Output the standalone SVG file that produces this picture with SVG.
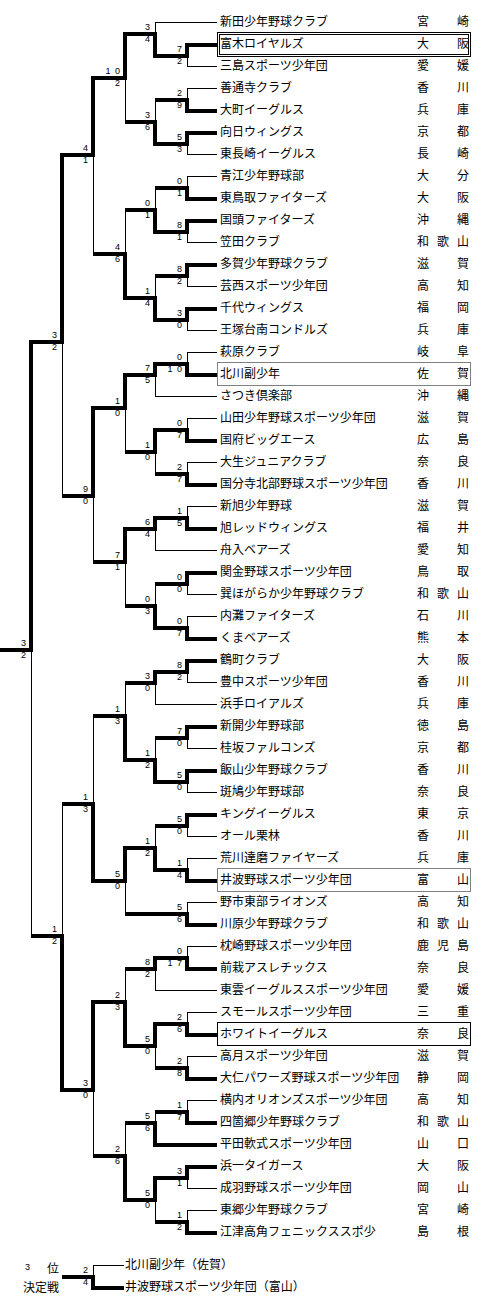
<svg xmlns="http://www.w3.org/2000/svg" width="486" height="1310" viewBox="0 0 486 1310">
<style>
.nm{font-family:"Noto Sans CJK JP","Noto Sans CJK SC",sans-serif;font-size:12px;fill:#000}
.sc{font-family:"Liberation Sans",Arial,sans-serif;font-size:9px;fill:#000;text-anchor:end;word-spacing:2px}
.thin{fill:none;stroke:#000;stroke-width:1}
.tv{fill:none;stroke:#000;stroke-width:4;stroke-linecap:square}
.th{fill:none;stroke:#000;stroke-width:4;stroke-linecap:butt}
.box{fill:none;stroke:#000;stroke-width:1}
.dot{fill:none;stroke:#000;stroke-width:1;stroke-dasharray:1 1}
</style>
<rect width="486" height="1310" fill="#fff"/>
<g id="highlights">
<rect class="box" x="217.5" y="32.5" width="253" height="24"/>
<rect class="box" x="219.5" y="34.5" width="249" height="20"/>
<rect class="dot" x="217.5" y="362.5" width="253" height="23"/>
<rect class="dot" x="217.5" y="868.5" width="253" height="23"/>
<rect class="box" x="217.5" y="1022.5" width="253" height="23"/>
</g>
<g id="connectors">
<path class="thin" d="M187.5 55V66M187.5 88V99M187.5 143V154M187.5 176V187M187.5 231V242M187.5 275V286M187.5 319V330M187.5 352V363M187.5 418V429M187.5 462V473M187.5 506V517M187.5 583V594M187.5 616V627M187.5 671V682M187.5 737V748M187.5 781V792M187.5 825V836M187.5 858V869M187.5 902V913M187.5 946V957M187.5 1012V1023M187.5 1056V1067M187.5 1100V1111M187.5 1177V1188M187.5 1210V1221
M155.5 22V33M155.5 99V121M155.5 187V209M155.5 275V297M155.5 374V396M155.5 451V473M155.5 528V550M155.5 583V605M155.5 682V704M155.5 737V759M155.5 825V847M155.5 968V990M155.5 1045V1067M155.5 1111V1122M155.5 1199V1221
M125.5 77V121M125.5 209V253M125.5 407V451M125.5 561V605M125.5 682V715M125.5 880V913M125.5 968V1001M125.5 1122V1155
M93.5 154V253M93.5 495V561M93.5 715V803M93.5 1089V1155
M62.5 341V495M62.5 803V935M31.5 649V935M93.5 1265V1276
M155 22.5H217M187 66.5H217M187 88.5H217M187 154.5H217M187 176.5H217M187 242.5H217M187 286.5H217M187 330.5H217M187 352.5H217M155 396.5H217M187 418.5H217M187 462.5H217M187 506.5H217M155 550.5H217M187 594.5H217M187 616.5H217M187 682.5H217M155 704.5H217M187 748.5H217M187 792.5H217M187 836.5H217M187 858.5H217M187 902.5H217M187 946.5H217M155 990.5H217M187 1012.5H217M187 1056.5H217M187 1100.5H217M187 1188.5H217M187 1210.5H217M93 1265.5H124"/>
<path class="tv" d="M187 45V56M187 100V111M187 133V144M187 188V199M187 221V232M187 265V276M187 309V320M187 364V375M187 430V441M187 474V485M187 518V529M187 573V584M187 628V639M187 661V672M187 727V738M187 771V782M187 815V826M187 870V881M187 914V925M187 958V969M187 1024V1035M187 1068V1079M187 1112V1123M187 1167V1178M187 1222V1233
M155 34V56M155 122V144M155 210V232M155 298V320M155 364V375M155 430V452M155 518V529M155 606V628M155 672V683M155 760V782M155 848V870M155 958V969M155 1024V1046M155 1123V1145M155 1178V1200
M125 34V78M125 254V298M125 375V408M125 529V562M125 716V760M125 848V881M125 1002V1046M125 1156V1200
M93 78V155M93 408V496M93 804V881M93 1002V1090M62 155V342M62 936V1090M31 342V650M93 1277V1288"/>
<path class="th" d="M155 56H187M155 100H187M155 144H187M155 188H187M155 232H187M155 276H187M155 320H187M155 364H187M155 430H187M155 474H187M155 518H187M155 584H187M155 628H187M155 672H187M155 738H187M155 782H187M155 826H187M155 870H187M125 914H187M155 958H187M155 1024H187M155 1068H187M155 1112H187M155 1178H187M155 1222H187
M125 34H155M125 122H155M125 210H155M125 298H155M125 375H155M125 452H155M125 529H155M125 606H155M125 683H155M125 760H155M125 848H155M125 969H155M125 1046H155M125 1123H155M125 1200H155
M93 78H125M93 254H125M93 408H125M93 562H125M93 716H125M93 881H125M93 1002H125M93 1156H125
M62 155H93M62 496H93M62 804H93M62 1090H93M31 342H62M31 936H62M0 650H31M62 1277H93
M187 45H217M187 111H217M187 133H217M187 199H217M187 221H217M187 265H217M187 309H217M187 375H217M187 441H217M187 485H217M187 529H217M187 573H217M187 639H217M187 661H217M187 727H217M187 771H217M187 815H217M187 881H217M187 925H217M187 969H217M187 1035H217M187 1079H217M187 1123H217M155 1145H217M187 1167H217M187 1233H217M93 1288H124"/>
</g>
<g id="scores" class="sc">
<g id="m-a1"><text x="182" y="52">7</text><text x="182" y="64">2</text></g>
<g id="m-a2"><text x="182" y="96">2</text><text x="182" y="108">9</text></g>
<g id="m-a3"><text x="182" y="140">5</text><text x="182" y="152">3</text></g>
<g id="m-a4"><text x="182" y="184">0</text><text x="182" y="196">1</text></g>
<g id="m-a5"><text x="182" y="228">8</text><text x="182" y="240">1</text></g>
<g id="m-a6"><text x="182" y="272">8</text><text x="182" y="284">2</text></g>
<g id="m-a7"><text x="182" y="316">3</text><text x="182" y="328">0</text></g>
<g id="m-a8"><text x="182" y="360">0</text><text x="182" y="372">1 0</text></g>
<g id="m-a9"><text x="182" y="426">0</text><text x="182" y="438">7</text></g>
<g id="m-a10"><text x="182" y="470">2</text><text x="182" y="482">7</text></g>
<g id="m-a11"><text x="182" y="514">1</text><text x="182" y="526">5</text></g>
<g id="m-a12"><text x="182" y="580">0</text><text x="182" y="592">0</text></g>
<g id="m-a13"><text x="182" y="624">0</text><text x="182" y="636">7</text></g>
<g id="m-a14"><text x="182" y="668">8</text><text x="182" y="680">2</text></g>
<g id="m-a15"><text x="182" y="734">7</text><text x="182" y="746">0</text></g>
<g id="m-a16"><text x="182" y="778">5</text><text x="182" y="790">0</text></g>
<g id="m-a17"><text x="182" y="822">5</text><text x="182" y="834">0</text></g>
<g id="m-a18"><text x="182" y="866">1</text><text x="182" y="878">4</text></g>
<g id="m-a19"><text x="182" y="910">5</text><text x="182" y="922">6</text></g>
<g id="m-a20"><text x="182" y="954">0</text><text x="182" y="966">1 7</text></g>
<g id="m-a21"><text x="182" y="1020">2</text><text x="182" y="1032">6</text></g>
<g id="m-a22"><text x="182" y="1064">2</text><text x="182" y="1076">8</text></g>
<g id="m-a23"><text x="182" y="1108">1</text><text x="182" y="1120">7</text></g>
<g id="m-a24"><text x="182" y="1174">3</text><text x="182" y="1186">1</text></g>
<g id="m-a25"><text x="182" y="1218">1</text><text x="182" y="1230">2</text></g>
<g id="m-b1"><text x="150" y="30">3</text><text x="150" y="42">4</text></g>
<g id="m-b2"><text x="150" y="118">3</text><text x="150" y="130">6</text></g>
<g id="m-b3"><text x="150" y="206">0</text><text x="150" y="218">1</text></g>
<g id="m-b4"><text x="150" y="294">1</text><text x="150" y="306">4</text></g>
<g id="m-b5"><text x="150" y="371">7</text><text x="150" y="383">5</text></g>
<g id="m-b6"><text x="150" y="448">1</text><text x="150" y="460">0</text></g>
<g id="m-b7"><text x="150" y="525">6</text><text x="150" y="537">4</text></g>
<g id="m-b8"><text x="150" y="602">0</text><text x="150" y="614">3</text></g>
<g id="m-b9"><text x="150" y="679">3</text><text x="150" y="691">0</text></g>
<g id="m-b10"><text x="150" y="756">1</text><text x="150" y="768">2</text></g>
<g id="m-b11"><text x="150" y="844">1</text><text x="150" y="856">2</text></g>
<g id="m-b12"><text x="150" y="965">8</text><text x="150" y="977">2</text></g>
<g id="m-b13"><text x="150" y="1042">5</text><text x="150" y="1054">0</text></g>
<g id="m-b14"><text x="150" y="1119">5</text><text x="150" y="1131">6</text></g>
<g id="m-b15"><text x="150" y="1196">5</text><text x="150" y="1208">0</text></g>
<g id="m-c1"><text x="120" y="74">1 0</text><text x="120" y="86">2</text></g>
<g id="m-c2"><text x="120" y="250">4</text><text x="120" y="262">6</text></g>
<g id="m-c3"><text x="120" y="404">1</text><text x="120" y="416">0</text></g>
<g id="m-c4"><text x="120" y="558">7</text><text x="120" y="570">1</text></g>
<g id="m-c5"><text x="120" y="712">1</text><text x="120" y="724">3</text></g>
<g id="m-c6"><text x="120" y="877">5</text><text x="120" y="889">0</text></g>
<g id="m-c7"><text x="120" y="998">2</text><text x="120" y="1010">3</text></g>
<g id="m-c8"><text x="120" y="1152">2</text><text x="120" y="1164">6</text></g>
<g id="m-d1"><text x="88" y="151">4</text><text x="88" y="163">1</text></g>
<g id="m-d2"><text x="88" y="492">9</text><text x="88" y="504">0</text></g>
<g id="m-d3"><text x="88" y="800">1</text><text x="88" y="812">3</text></g>
<g id="m-d4"><text x="88" y="1086">3</text><text x="88" y="1098">0</text></g>
<g id="m-e1"><text x="57" y="338">3</text><text x="57" y="350">2</text></g>
<g id="m-e2"><text x="57" y="932">1</text><text x="57" y="944">2</text></g>
<g id="m-final"><text x="26" y="646">3</text><text x="26" y="658">2</text></g>
<g id="m-third"><text x="88" y="1273">2</text><text x="88" y="1285">4</text></g>
</g>
<g id="teams" class="nm">
<g id="t01"><text x="220" y="26">新田少年野球クラブ</text><text x="417 457" y="26">宮崎</text></g>
<g id="t02"><text x="220" y="48">富木ロイヤルズ</text><text x="417 457" y="48">大阪</text></g>
<g id="t03"><text x="220" y="70">三島スポーツ少年団</text><text x="417 457" y="70">愛媛</text></g>
<g id="t04"><text x="220" y="92">善通寺クラブ</text><text x="417 457" y="92">香川</text></g>
<g id="t05"><text x="220" y="114">大町イーグルス</text><text x="417 457" y="114">兵庫</text></g>
<g id="t06"><text x="220" y="136">向日ウィングス</text><text x="417 457" y="136">京都</text></g>
<g id="t07"><text x="220" y="158">東長崎イーグルス</text><text x="417 457" y="158">長崎</text></g>
<g id="t08"><text x="220" y="180">青江少年野球部</text><text x="417 457" y="180">大分</text></g>
<g id="t09"><text x="220" y="202">東鳥取ファイターズ</text><text x="417 457" y="202">大阪</text></g>
<g id="t10"><text x="220" y="224">国頭ファイターズ</text><text x="417 457" y="224">沖縄</text></g>
<g id="t11"><text x="220" y="246">笠田クラブ</text><text x="417 437 457" y="246">和歌山</text></g>
<g id="t12"><text x="220" y="268">多賀少年野球クラブ</text><text x="417 457" y="268">滋賀</text></g>
<g id="t13"><text x="220" y="290">芸西スポーツ少年団</text><text x="417 457" y="290">高知</text></g>
<g id="t14"><text x="220" y="312">千代ウィングス</text><text x="417 457" y="312">福岡</text></g>
<g id="t15"><text x="220" y="334">王塚台南コンドルズ</text><text x="417 457" y="334">兵庫</text></g>
<g id="t16"><text x="220" y="356">萩原クラブ</text><text x="417 457" y="356">岐阜</text></g>
<g id="t17"><text x="220" y="378">北川副少年</text><text x="417 457" y="378">佐賀</text></g>
<g id="t18"><text x="220" y="400">さつき倶楽部</text><text x="417 457" y="400">沖縄</text></g>
<g id="t19"><text x="220" y="422">山田少年野球スポーツ少年団</text><text x="417 457" y="422">滋賀</text></g>
<g id="t20"><text x="220" y="444">国府ビッグエース</text><text x="417 457" y="444">広島</text></g>
<g id="t21"><text x="220" y="466">大生ジュニアクラブ</text><text x="417 457" y="466">奈良</text></g>
<g id="t22"><text x="220" y="488">国分寺北部野球スポーツ少年団</text><text x="417 457" y="488">香川</text></g>
<g id="t23"><text x="220" y="510">新旭少年野球</text><text x="417 457" y="510">滋賀</text></g>
<g id="t24"><text x="220" y="532">旭レッドウィングス</text><text x="417 457" y="532">福井</text></g>
<g id="t25"><text x="220" y="554">舟入ベアーズ</text><text x="417 457" y="554">愛知</text></g>
<g id="t26"><text x="220" y="576">関金野球スポーツ少年団</text><text x="417 457" y="576">鳥取</text></g>
<g id="t27"><text x="220" y="598">巽ほがらか少年野球クラブ</text><text x="417 437 457" y="598">和歌山</text></g>
<g id="t28"><text x="220" y="620">内灘ファイターズ</text><text x="417 457" y="620">石川</text></g>
<g id="t29"><text x="220" y="642">くまベアーズ</text><text x="417 457" y="642">熊本</text></g>
<g id="t30"><text x="220" y="664">鶴町クラブ</text><text x="417 457" y="664">大阪</text></g>
<g id="t31"><text x="220" y="686">豊中スポーツ少年団</text><text x="417 457" y="686">香川</text></g>
<g id="t32"><text x="220" y="708">浜手ロイアルズ</text><text x="417 457" y="708">兵庫</text></g>
<g id="t33"><text x="220" y="730">新開少年野球部</text><text x="417 457" y="730">徳島</text></g>
<g id="t34"><text x="220" y="752">桂坂ファルコンズ</text><text x="417 457" y="752">京都</text></g>
<g id="t35"><text x="220" y="774">飯山少年野球クラブ</text><text x="417 457" y="774">香川</text></g>
<g id="t36"><text x="220" y="796">斑鳩少年野球部</text><text x="417 457" y="796">奈良</text></g>
<g id="t37"><text x="220" y="818">キングイーグルス</text><text x="417 457" y="818">東京</text></g>
<g id="t38"><text x="220" y="840">オール栗林</text><text x="417 457" y="840">香川</text></g>
<g id="t39"><text x="220" y="862">荒川達磨ファイヤーズ</text><text x="417 457" y="862">兵庫</text></g>
<g id="t40"><text x="220" y="884">井波野球スポーツ少年団</text><text x="417 457" y="884">富山</text></g>
<g id="t41"><text x="220" y="906">野市東部ライオンズ</text><text x="417 457" y="906">高知</text></g>
<g id="t42"><text x="220" y="928">川原少年野球クラブ</text><text x="417 437 457" y="928">和歌山</text></g>
<g id="t43"><text x="220" y="950">枕崎野球スポーツ少年団</text><text x="417 437 457" y="950">鹿児島</text></g>
<g id="t44"><text x="220" y="972">前栽アスレチックス</text><text x="417 457" y="972">奈良</text></g>
<g id="t45"><text x="220" y="994">東雲イーグルススポーツ少年団</text><text x="417 457" y="994">愛媛</text></g>
<g id="t46"><text x="220" y="1016">スモールスポーツ少年団</text><text x="417 457" y="1016">三重</text></g>
<g id="t47"><text x="220" y="1038">ホワイトイーグルス</text><text x="417 457" y="1038">奈良</text></g>
<g id="t48"><text x="220" y="1060">高月スポーツ少年団</text><text x="417 457" y="1060">滋賀</text></g>
<g id="t49"><text x="220" y="1082">大仁パワーズ野球スポーツ少年団</text><text x="417 457" y="1082">静岡</text></g>
<g id="t50"><text x="220" y="1104">横内オリオンズスポーツ少年団</text><text x="417 457" y="1104">高知</text></g>
<g id="t51"><text x="220" y="1126">四箇郷少年野球クラブ</text><text x="417 437 457" y="1126">和歌山</text></g>
<g id="t52"><text x="220" y="1148">平田軟式スポーツ少年団</text><text x="417 457" y="1148">山口</text></g>
<g id="t53"><text x="220" y="1170">浜一タイガース</text><text x="417 457" y="1170">大阪</text></g>
<g id="t54"><text x="220" y="1192">成羽野球スポーツ少年団</text><text x="417 457" y="1192">岡山</text></g>
<g id="t55"><text x="220" y="1214">東郷少年野球クラブ</text><text x="417 457" y="1214">宮崎</text></g>
<g id="t56"><text x="220" y="1236">江津高角フェニックススポ少</text><text x="417 457" y="1236">島根</text></g>
</g>
<g id="third-place" class="nm">
<text><tspan x="25" y="1270" style="font-family:'Liberation Sans',sans-serif;font-size:9px">3</tspan><tspan x="47" y="1273">位</tspan></text>
<text x="23" y="1292">決定戦</text>
<g id="tp1"><text x="125" y="1269">北川副少年（佐賀）</text></g>
<g id="tp2"><text x="125" y="1291">井波野球スポーツ少年団（富山）</text></g>
</g>
</svg>
